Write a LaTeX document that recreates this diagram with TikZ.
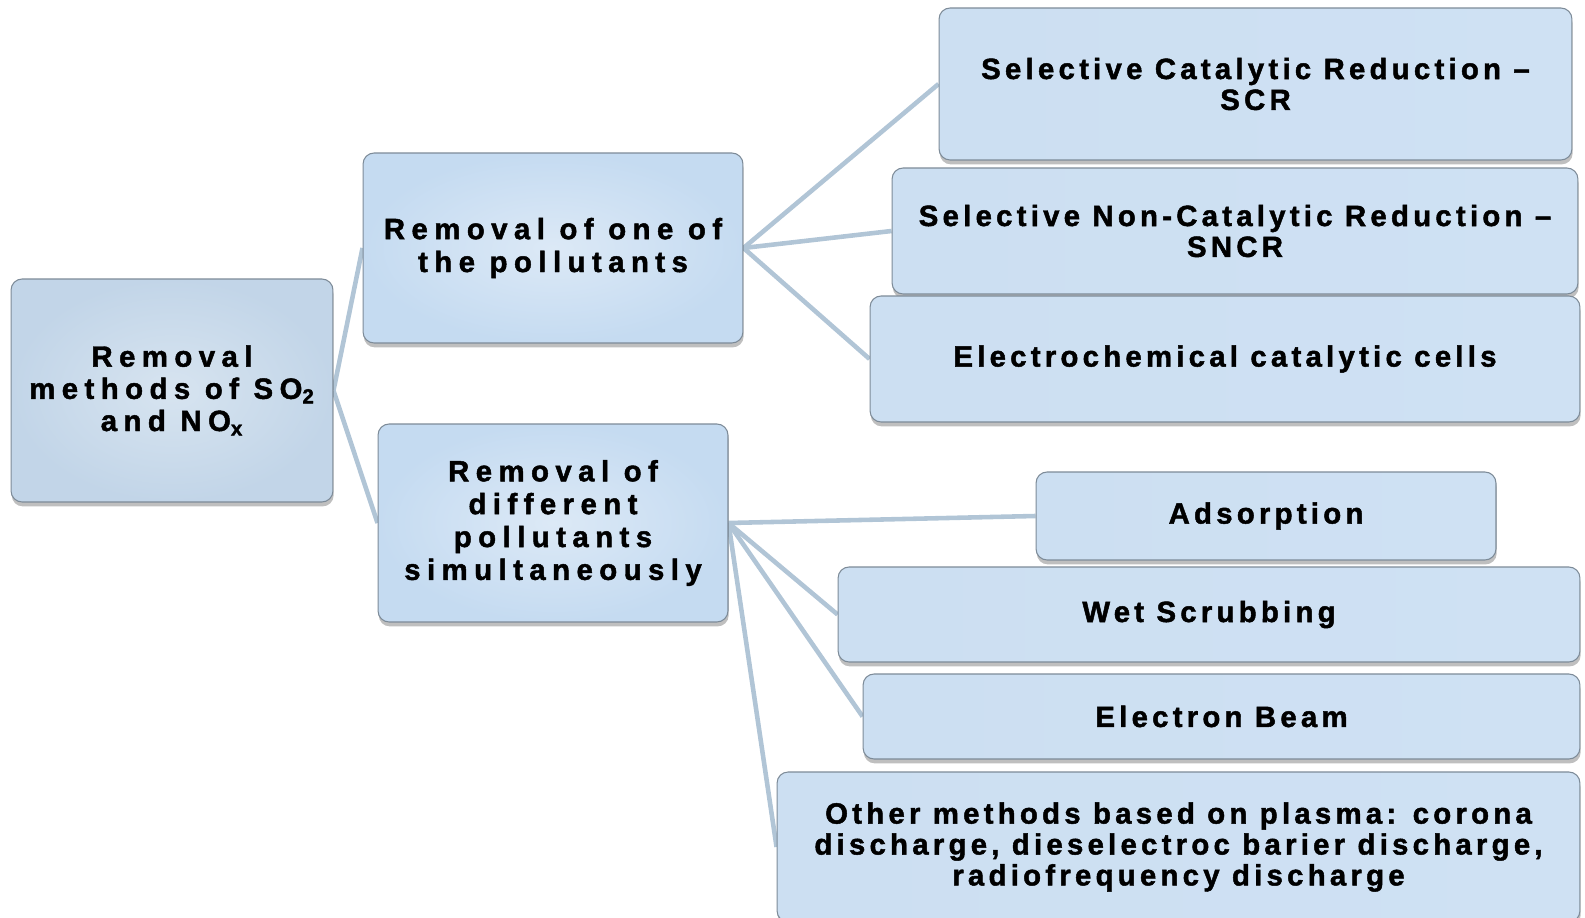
\documentclass[tikz,border=0pt]{standalone}
\usepackage{fontspec}
\usetikzlibrary{shadows, backgrounds}

\newfontfamily\boxfont{Liberation Sans Bold}[LetterSpace=22, FakeBold=1.6]
\newfontfamily\leaffont{Liberation Sans Bold}[LetterSpace=14.5, FakeBold=1.6]

\definecolor{boxedge}{HTML}{7D8B98}
\definecolor{linkblue}{HTML}{B1C5D6}
\definecolor{rootin}{HTML}{D7E4F0}
\definecolor{rootout}{HTML}{C2D5E8}
\definecolor{subin}{HTML}{DCE9F6}
\definecolor{subout}{HTML}{C5DBF1}
\definecolor{leafleft}{HTML}{CCDFF2}
\definecolor{leafmid}{HTML}{E1EBF6}
\definecolor{leafright}{HTML}{CFE1F3}

\tikzset{
    box/.style={draw=boxedge, line width=0.6pt, rounded corners=0.22cm, align=center,
        inner sep=0pt, text=black,
        drop shadow={shadow xshift=0.4pt, shadow yshift=-2.5pt, fill=black, opacity=0.25}},
    rootbox/.style={box, inner color=rootin, outer color=rootout,
        font=\boxfont\fontsize{16.7}{18.3}\selectfont},
    subbox/.style={box, inner color=subin, outer color=subout,
        font=\boxfont\fontsize{16.7}{18.7}\selectfont},
    leafbox/.style={box, left color=leafleft, middle color=leafmid, right color=leafright,
        font=\leaffont\fontsize{16.7}{17.6}\selectfont},
    link/.style={draw=linkblue, line width=2.6pt}
}

\begin{document}
\begin{tikzpicture}[x=0.02cm, y=-0.02cm]
    \useasboundingbox (0,0) rectangle (1585,918);

    \node[rootbox, minimum width=6.44cm, minimum height=4.46cm] (root) at (172,390.5)
        {Removal\\ methods of SO\textsubscript{2}\\ and NO\textsubscript{x}};

    \node[subbox, minimum width=7.6cm, minimum height=3.8cm] (one) at (553,248)
        {Removal of one of\\ the pollutants};
    \node[subbox, minimum width=7cm, minimum height=3.96cm] (many) at (553,523)
        {Removal of\\ different\\ pollutants\\ simultaneously};

    % one pollutant
    \node[leafbox, minimum width=12.66cm, minimum height=3.04cm] (scr) at (1255.5,84)
        {Selective Catalytic Reduction –\\ SCR};
    \node[leafbox, minimum width=13.72cm, minimum height=2.52cm] (sncr) at (1235,231)
        {Selective Non-Catalytic Reduction –\\ SNCR};
    \node[leafbox, minimum width=14.2cm, minimum height=2.52cm] (cells) at (1225,359)
        {Electrochemical catalytic cells};

    % several pollutants
    \node[leafbox, minimum width=9.2cm, minimum height=1.76cm] (adsorb) at (1266,516)
        {Adsorption};
    \node[leafbox, minimum width=14.84cm, minimum height=1.9cm] (wet) at (1209,614.5)
        {Wet Scrubbing};
    \node[leafbox, minimum width=14.34cm, minimum height=1.7cm] (beam) at (1221.5,716.5)
        {Electron Beam};
    \node[leafbox, minimum width=16.06cm, minimum height=3cm] (plasma) at (1178.5,847)
        {Other methods based on plasma: corona\\ discharge, dieselectroc barier discharge,\\ radiofrequency discharge};

    \begin{pgfonlayer}{background}
        \draw[link] (root.east) -- (one.west);
        \draw[link] (root.east) -- (many.west);
        \foreach \leaf in {scr, sncr, cells}
            \draw[link] (one.east) -- (\leaf.west);
        \foreach \leaf in {adsorb, wet, beam, plasma}
            \draw[link] (many.east) -- (\leaf.west);
    \end{pgfonlayer}
\end{tikzpicture}
\end{document}
